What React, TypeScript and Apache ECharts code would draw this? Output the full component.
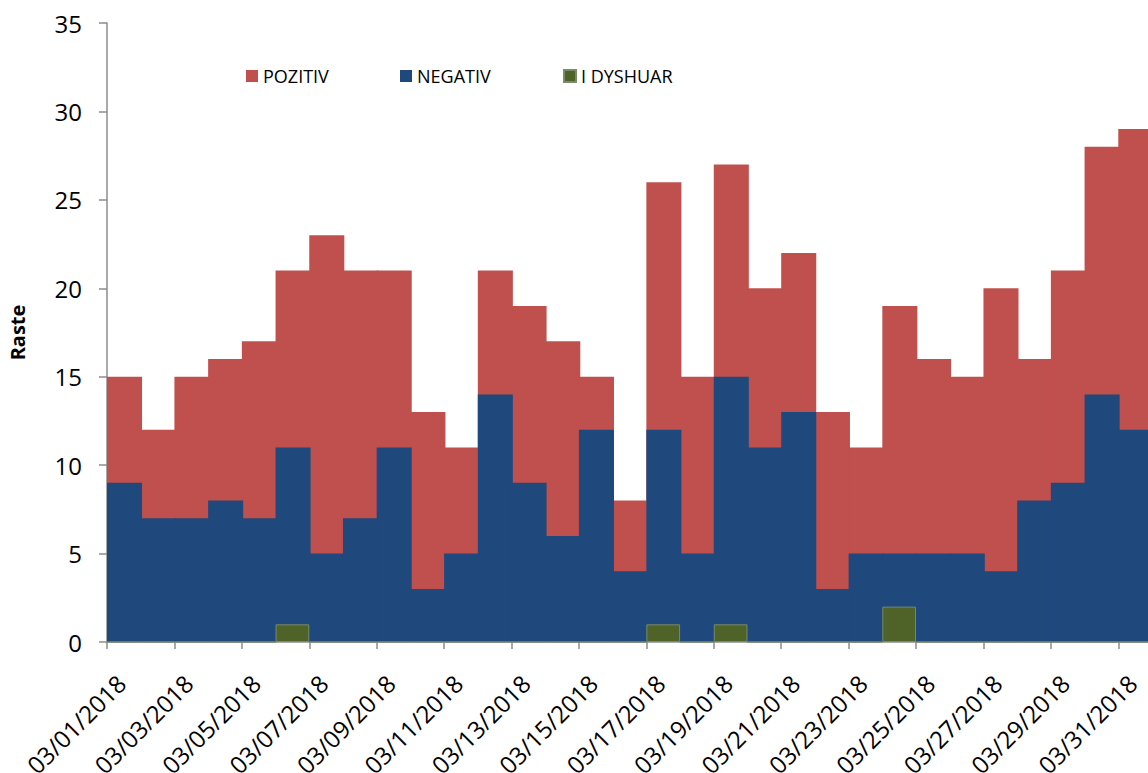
import React, { useEffect, useRef } from "react";
import * as echarts from "echarts";

const dates = [
  "03/01/2018", "03/02/2018", "03/03/2018", "03/04/2018", "03/05/2018", "03/06/2018",
  "03/07/2018", "03/08/2018", "03/09/2018", "03/10/2018", "03/11/2018", "03/12/2018",
  "03/13/2018", "03/14/2018", "03/15/2018", "03/16/2018", "03/17/2018", "03/18/2018",
  "03/19/2018", "03/20/2018", "03/21/2018", "03/22/2018", "03/23/2018", "03/24/2018",
  "03/25/2018", "03/26/2018", "03/27/2018", "03/28/2018", "03/29/2018", "03/30/2018",
  "03/31/2018",
];

const seriesNames = ["POZITIV", "NEGATIV", "I DYSHUAR"];
const pozitiv = [15, 12, 15, 16, 17, 21, 23, 21, 21, 13, 11, 21, 19, 17, 15, 8, 26, 15, 27, 20, 22, 13, 11, 19, 16, 15, 20, 16, 21, 28, 29];
const negativ = [9, 7, 7, 8, 7, 11, 5, 7, 11, 3, 5, 14, 9, 6, 12, 4, 12, 5, 15, 11, 13, 3, 5, 5, 5, 5, 4, 8, 9, 14, 12];
const dyshuar = [0, 0, 0, 0, 0, 1, 0, 0, 0, 0, 0, 0, 0, 0, 0, 0, 1, 0, 1, 0, 0, 0, 0, 2, 0, 0, 0, 0, 0, 0, 0];

const yTicks = { min: 0, max: 35, interval: 5 };
const FONT = "'Open Sans', sans-serif";

export default function App() {
  const ref = useRef<HTMLDivElement>(null);

  useEffect(() => {
    document.body.style.margin = "0";
    const chart = echarts.init(ref.current!, undefined, { renderer: "svg" });
    const axisGrey = "#8c8c8c";
    const red = "#C0504D";
    const blue = "#1F497D";
    const green = "#4F6228";
    const legendLefts = [241, 395, 558];
    chart.setOption({
      animation: false,
      backgroundColor: "#ffffff",
      textStyle: { fontFamily: FONT },
      grid: {
        left: 107,
        right: -4,
        top: 23,
        bottom: 131,
        containLabel: false,
        outerBoundsMode: "none",
      },
      legend: seriesNames.map((n, i) => ({
        data: [n],
        left: legendLefts[i],
        top: 62,
        itemWidth: 12,
        itemHeight: 12,
        icon: "rect",
        textStyle: { fontFamily: FONT, fontSize: 18, color: "#000" },
      })),
      xAxis: [
        {
          type: "category",
          data: dates,
          show: false,
        },
        {
          type: "value",
          position: "bottom",
          min: 0,
          max: dates.length,
          interval: 2,
          axisLine: { show: true, lineStyle: { color: axisGrey, width: 1.5 } },
          axisTick: { show: true, length: 7, lineStyle: { color: axisGrey, width: 1.5 } },
          splitLine: { show: false },
          axisLabel: {
            rotate: 45,
            fontSize: 24,
            fontFamily: FONT,
            color: "#000",
            margin: 23,
            align: "right",
            verticalAlign: "top",
            lineHeight: 40,
            showMaxLabel: false,
            formatter: (v: number) => (v < dates.length ? dates[v] : ""),
          },
        },
      ],
      yAxis: {
        type: "value",
        min: yTicks.min,
        max: yTicks.max,
        interval: yTicks.interval,
        name: "Raste",
        nameLocation: "middle",
        nameRotate: 90,
        nameGap: 80,
        nameTextStyle: { fontFamily: FONT, fontSize: 20, fontWeight: "bold", color: "#000" },
        axisLine: { show: true, lineStyle: { color: axisGrey, width: 1.5 } },
        axisTick: { show: true, length: 8, lineStyle: { color: axisGrey, width: 1.5 } },
        splitLine: { show: false },
        axisLabel: { fontSize: 24, fontFamily: FONT, color: "#000", margin: 25 },
      },
      series: [
        {
          name: seriesNames[0],
          type: "bar",
          xAxisIndex: 0,
          data: pozitiv,
          barGap: "-100%",
          barWidth: "104%",
          itemStyle: { color: red, borderWidth: 0 },
        },
        {
          name: seriesNames[1],
          type: "bar",
          xAxisIndex: 0,
          data: negativ,
          barGap: "-100%",
          barWidth: "104%",
          itemStyle: { color: blue, borderWidth: 0 },
        },
        {
          name: seriesNames[2],
          type: "bar",
          xAxisIndex: 0,
          data: dyshuar,
          barGap: "-100%",
          barWidth: "100%",
          itemStyle: { color: green, borderColor: "#7a8a6a", borderWidth: 1 },
        },
      ],
    });
    return () => chart.dispose();
  }, []);

  return (
    <div
      ref={ref}
      style={{ position: "fixed", left: 0, top: 0, width: 1148, height: 773 }}
    />
  );
}
